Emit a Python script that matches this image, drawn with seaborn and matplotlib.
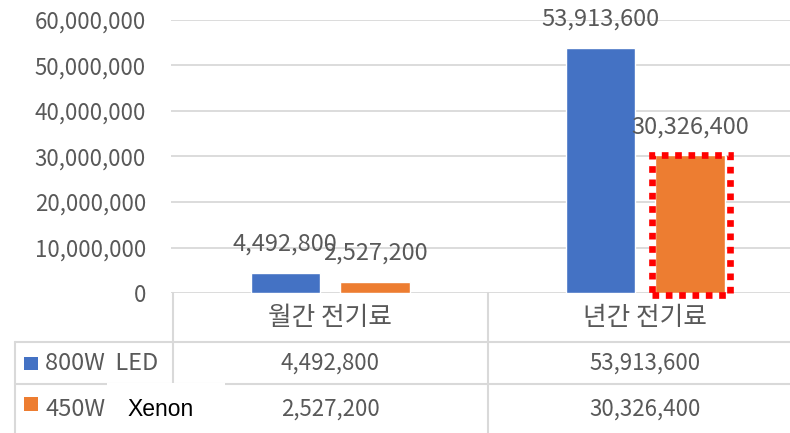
import matplotlib
matplotlib.use("Agg")
import matplotlib.pyplot as plt
import matplotlib.transforms as mtransforms
from matplotlib.patches import Rectangle
from matplotlib.lines import Line2D
import pandas as pd
import seaborn as sns

# data
categories = ["월간 전기료", "년간 전기료"]
series_names = ["800W LED", "450W Xenon"]
led_values = [4492800, 53913600]
xenon_values = [2527200, 30326400]
y_ticks = [0, 10000000, 20000000, 30000000, 40000000, 50000000, 60000000]

blue = "#4472C4"
orange = "#ED7D31"
grey_txt = "#595959"
grid_col = "#D9D9D9"

df = pd.DataFrame({
    "category": categories * 2,
    "series": [series_names[0]] * 2 + [series_names[1]] * 2,
    "value": led_values + xenon_values,
})

sns.set_style("white")
plt.rcParams["font.family"] = ["Noto Sans CJK KR", "DejaVu Sans"]

W, H = 790, 433
fig = plt.figure(figsize=(W / 100, H / 100), dpi=100)

def fx(px):
    return px / W

def fy(py):
    return 1 - py / H

ax = fig.add_axes([fx(171), fy(293), fx(790) - fx(171), fy(20) - fy(293)])
sns.barplot(data=df, x="category", y="value", hue="series",
            palette=[blue, orange], width=0.57, gap=0.23,
            saturation=1, legend=False, ax=ax)

ax.set_xlim(-0.505, 1.46)
ax.set_ylim(0, 60000000)
ax.set_yticks(y_ticks)
ax.set_yticklabels([f"{v:,}" for v in y_ticks], fontsize=16, color=grey_txt)
ax.tick_params(axis="y", length=0, pad=18)
ax.set_xticks([])
ax.set_xlabel("")
ax.set_ylabel("")
for s in ax.spines.values():
    s.set_visible(False)
ax.yaxis.grid(True, color=grid_col, linewidth=1.3)
ax.set_axisbelow(True)

# data labels
for cont in ax.containers:
    ax.bar_label(cont, labels=[f"{b.get_height():,.0f}" for b in cont],
                 padding=12, fontsize=17, color=grey_txt)

# red dotted highlight around the annual xenon bar
hb = ax.containers[1][1]
ax.add_patch(Rectangle((hb.get_x() - 0.011, -450000),
                       hb.get_width() + 0.027, hb.get_height() + 450000,
                       fill=False, edgecolor="#FF0000", linewidth=4.8,
                       linestyle=(0, (1, 1.0)), clip_on=False, zorder=5))

# data table
blend = mtransforms.blended_transform_factory(ax.transData, fig.transFigure)
line_kw = dict(color=grid_col, linewidth=1.5)
for xb in [-0.5, 0.5]:
    fig.add_artist(Line2D([xb, xb], [fy(293), 0], transform=blend, **line_kw))
fig.add_artist(Line2D([fx(15), fx(15)], [fy(342), 0], **line_kw))
for yl in [342, 384]:
    fig.add_artist(Line2D([fx(15), 1], [fy(yl), fy(yl)], **line_kw))

for i, cat in enumerate(categories):
    fig.text(i, fy(318), cat, transform=blend, ha="center", va="center",
             fontsize=18.5, color=grey_txt)
    fig.text(i, fy(363), f"{led_values[i]:,}", transform=blend, ha="center",
             va="center", fontsize=16, color=grey_txt)
    fig.text(i, fy(409), f"{xenon_values[i]:,}", transform=blend, ha="center",
             va="center", fontsize=16, color=grey_txt)

# legend keys in the table
fig.add_artist(Rectangle((fx(24), fy(370)), fx(14), fy(357) - fy(370),
                         facecolor=blue, edgecolor="none"))
fig.add_artist(Rectangle((fx(24), fy(411)), fx(14), fy(397) - fy(411),
                         facecolor=orange, edgecolor="none"))
fig.text(fx(45), fy(363), series_names[0].replace(" ", "  "), ha="left",
         va="center", fontsize=17, color=grey_txt)
fig.text(fx(45), fy(409), series_names[1].split()[0], ha="left", va="center",
         fontsize=17, color=grey_txt)

# pasted-over "Xenon" label
fig.add_artist(Rectangle((fx(107), 0), fx(118), fy(383), facecolor="white",
                         edgecolor="none", zorder=10))
fig.text(fx(127), fy(409), series_names[1].split()[1], ha="left", va="center",
         fontsize=16.5, color="black", family="Liberation Sans", zorder=11)

fig.savefig("out.png", dpi=100)
